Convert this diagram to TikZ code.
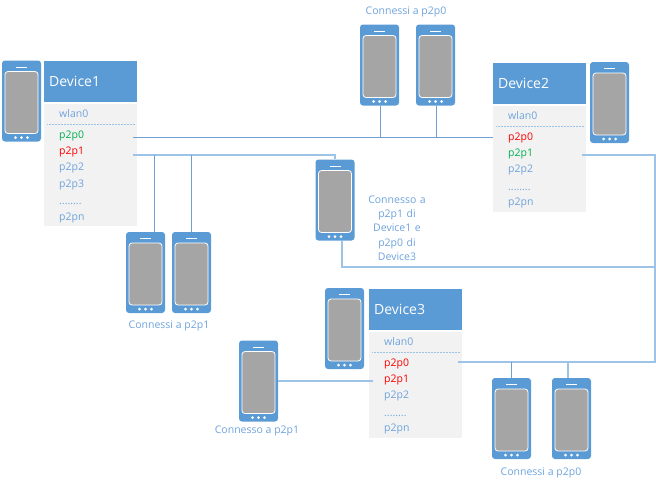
\documentclass[tikz,border=0pt]{standalone}
\usepackage{fontspec}
\setmainfont{Open Sans}
\usetikzlibrary{positioning}
\definecolor{azzurro}{HTML}{5B9BD5}
\definecolor{testo}{HTML}{6FA3DC}
\definecolor{filo}{HTML}{9DC3E6}
\definecolor{filoscuro}{HTML}{6F9FD3}
\definecolor{grigio}{HTML}{A5A5A5}
\definecolor{sfondo}{HTML}{F2F2F2}
\definecolor{verde}{HTML}{00B050}

\begin{document}
\begin{tikzpicture}[x=1pt,y=-1pt,font=\fontsize{10.5}{14}\selectfont,text=testo,
        phone/.style={fill=azzurro,rounded corners=3pt,minimum width=39pt,minimum height=81pt,inner sep=0pt,
          path picture={
            \draw[white,fill=grigio,line width=0.8pt] ([shift={(3pt,-11pt)}]path picture bounding box.north west)
              rectangle ([shift={(-3pt,8pt)}]path picture bounding box.south east);
            \draw[white,line width=0.8pt] ([yshift=-6.5pt]path picture bounding box.north) ++(-5.5pt,0) -- ++(11pt,0);
            \foreach \k in {-6,0,6}
              \fill[white] ([shift={(\k pt,4pt)}]path picture bounding box.south) circle (1.5pt);
          }},
        head/.style={fill=azzurro,text=white,font=\fontsize{14}{16}\selectfont,minimum width=93pt,minimum height=41pt,
          inner sep=0pt,text width=83pt,align=left},
        panel/.style={fill=sfondo,minimum width=93pt,inner sep=0pt},
        port/.style={inner sep=0pt,text width=74pt,align=left,minimum height=16pt,text height=9pt,text depth=3pt},
        sep/.style={filo,line width=1pt,dash pattern=on 1pt off 0.5pt},
        wire/.style={filo,line width=1.3pt},
        thinwire/.style={filoscuro,line width=0.9pt}]
  \useasboundingbox (0,0) rectangle (656,485);

  % Device1
  \node[head,anchor=north west] (hA) at (44,61) {Device1};
  \node[panel,minimum height=122pt,below=1pt of hA] (bA) {};
  \node[port,below right=3pt and 15pt of bA.north west] (aW) {wlan0};
  \node[port,below=4pt of aW,text=verde] (aP0) {p2p0};
  \node[port,below=0pt of aP0,text=red] (aP1) {p2p1};
  \node[port,below=0pt of aP1] (aP2) {p2p2};
  \node[port,below=0pt of aP2] (aP3) {p2p3};
  \node[port,below=1pt of aP3] (aD) {........};
  \node[port,below=-1pt of aD] (aN) {p2pn};
  \draw[sep] ([shift={(3pt,-21pt)}]bA.north west) -- ([shift={(-3pt,-21pt)}]bA.north east);

  % Device2
  \node[head,anchor=north west] (hB) at (493,63) {Device2};
  \node[panel,minimum height=106pt,below=1pt of hB] (bB) {};
  \node[port,below right=3pt and 15pt of bB.north west] (bW) {wlan0};
  \node[port,below=4pt of bW,text=red] (bP0) {p2p0};
  \node[port,below=0pt of bP0,text=verde] (bP1) {p2p1};
  \node[port,below=0pt of bP1] (bP2) {p2p2};
  \node[port,below=1pt of bP2] (bD) {........};
  \node[port,below=-1pt of bD] (bN) {p2pn};
  \draw[sep] ([shift={(3pt,-21pt)}]bB.north west) -- ([shift={(-3pt,-21pt)}]bB.north east);

  % Device3
  \node[head,anchor=north west] (hC) at (369,289) {Device3};
  \node[panel,minimum height=106pt,below=1pt of hC] (bC) {};
  \node[port,below right=3pt and 15pt of bC.north west] (cW) {wlan0};
  \node[port,below=4pt of cW,text=red] (cP0) {p2p0};
  \node[port,below=0pt of cP0,text=red] (cP1) {p2p1};
  \node[port,below=0pt of cP1] (cP2) {p2p2};
  \node[port,below=1pt of cP2] (cD) {........};
  \node[port,below=-1pt of cD] (cN) {p2pn};
  \draw[sep] ([shift={(3pt,-21pt)}]bC.north west) -- ([shift={(-3pt,-21pt)}]bC.north east);

  % telefoni
  \node[phone] (fA) at (21.5,101) {};
  \node[phone] (fB) at (609.5,102.5) {};
  \node[phone] (fC) at (344.5,328.5) {};
  \node[phone] (t1) at (379.5,65) {};
  \node[phone] (t2) at (435.5,65) {};
  \node[phone] (s1) at (145.5,272.5) {};
  \node[phone] (s2) at (191.5,272.5) {};
  \node[phone] (m) at (335,200) {};
  \node[phone] (l) at (258.5,381) {};
  \node[phone] (r1) at (511.5,418.5) {};
  \node[phone] (r2) at (571.5,418.5) {};

  % etichette
  \node (lt) at (406,12) {Connessi a p2p0};
  \node (ls) at (169,326) {Connessi a p2p1};
  \node (ll) at (257,430.5) {Connesso a p2p1};
  \node (lr) at (541,472.5) {Connessi a p2p0};
  \node[align=center,text width=70pt,font=\fontsize{10.5}{14.3}\selectfont] (lm) at (397,228) {Connesso a\\p2p1 di\\Device1 e\\p2p0 di\\Device3};

  % collegamenti
  \coordinate (n1) at (380,137);
  \coordinate (n2) at (436,137);
  \coordinate (n3) at (154,155);
  \coordinate (n4) at (191,155);
  \coordinate (n5) at (335,155);
  \coordinate (n6) at (342,267);
  \coordinate (n7) at (655,267);
  \coordinate (n8) at (655,155);
  \coordinate (n9) at (655,362);
  \coordinate (n10) at (511,362);
  \coordinate (n11) at (568,362);
  \draw[thinwire] (aP0.east |- n1) -- (n1 -| bB.west);
  \draw[thinwire] (n1) -- (n1 |- t1.south);
  \draw[thinwire] (n2) -- (n2 |- t2.south);
  \draw[wire] (aP1.east |- n5) -- (n5) -- (n5 |- m.north);
  \draw[thinwire] (n3) -- (n3 |- s1.north);
  \draw[thinwire] (n4) -- (n4 |- s2.north);
  \draw[wire] (n6 |- m.south) -- (n6) -- (n7);
  \draw[wire] (bP1.east |- n8) -- (n8) -- (n9) -- (n9 -| cP0.east);
  \draw[thinwire] (n10) -- (n10 |- r1.north);
  \draw[wire] (n11) -- (n11 |- r2.north);
  \draw[wire] (l.east) -- ([xshift=4pt]l.east -| bC.west);
\end{tikzpicture}
\end{document}
